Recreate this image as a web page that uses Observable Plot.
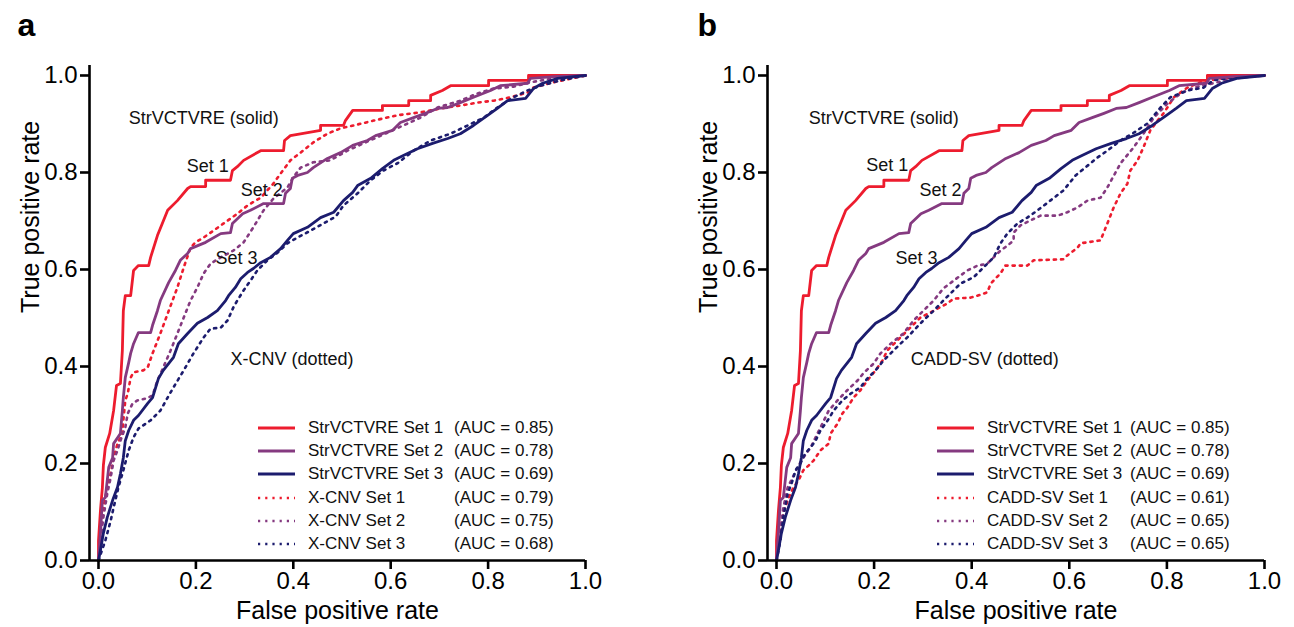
<!DOCTYPE html>
<html><head><meta charset="utf-8">
<script src="https://cdn.jsdelivr.net/npm/d3@7"></script>
<script src="https://cdn.jsdelivr.net/npm/@observablehq/plot@0.6"></script>
<style>
body{margin:0;background:#fff;font-family:"Liberation Sans",Arial,Helvetica,sans-serif;}
#wrap{position:relative;width:1294px;height:627px;overflow:hidden;background:#fff}
.panel{position:absolute;top:0}
.legend{position:absolute;top:0;left:0;font-size:17px;color:#111}
.row{position:absolute;height:24px;line-height:24px;white-space:nowrap}
.sw{position:absolute;top:10px}
</style></head><body><div id="wrap"></div><script>
// ---------- data (false positive rate, true positive rate) ----------
const strSet1 = [[0,0],[0.000,0.041],[0.004,0.103],[0.008,0.151],[0.010,0.196],[0.014,0.233],[0.023,0.262],[0.031,0.309],[0.037,0.361],[0.045,0.365],[0.049,0.433],[0.051,0.515],[0.055,0.546],[0.066,0.546],[0.072,0.598],[0.082,0.608],[0.103,0.608],[0.107,0.625],[0.121,0.670],[0.131,0.695],[0.142,0.722],[0.162,0.742],[0.183,0.767],[0.189,0.771],[0.220,0.771],[0.220,0.784],[0.271,0.784],[0.275,0.804],[0.285,0.812],[0.298,0.825],[0.333,0.845],[0.380,0.845],[0.382,0.866],[0.394,0.876],[0.456,0.887],[0.456,0.897],[0.503,0.897],[0.507,0.907],[0.522,0.928],[0.583,0.928],[0.583,0.938],[0.637,0.938],[0.637,0.948],[0.682,0.948],[0.682,0.959],[0.706,0.969],[0.723,0.979],[0.801,0.979],[0.801,0.990],[0.883,0.990],[0.883,1.0],[1,1]];
const strSet2 = [[0,0],[0.004,0.056],[0.008,0.124],[0.014,0.130],[0.021,0.192],[0.029,0.212],[0.031,0.241],[0.045,0.262],[0.049,0.309],[0.051,0.336],[0.055,0.377],[0.062,0.408],[0.066,0.427],[0.072,0.447],[0.082,0.470],[0.107,0.470],[0.111,0.485],[0.121,0.515],[0.127,0.536],[0.144,0.573],[0.158,0.598],[0.168,0.619],[0.183,0.633],[0.189,0.643],[0.220,0.656],[0.251,0.674],[0.271,0.676],[0.275,0.695],[0.296,0.715],[0.312,0.722],[0.339,0.736],[0.380,0.736],[0.384,0.757],[0.394,0.767],[0.398,0.788],[0.409,0.794],[0.429,0.800],[0.441,0.810],[0.470,0.829],[0.497,0.841],[0.522,0.856],[0.552,0.866],[0.569,0.876],[0.604,0.887],[0.620,0.903],[0.647,0.913],[0.671,0.922],[0.696,0.932],[0.717,0.934],[0.743,0.944],[0.770,0.955],[0.805,0.969],[0.825,0.979],[0.881,0.984],[0.887,0.994],[0.943,0.998],[1,1]];
const strSet3 = [[0,0],[0.004,0.021],[0.010,0.056],[0.018,0.089],[0.029,0.124],[0.039,0.151],[0.045,0.179],[0.051,0.212],[0.055,0.247],[0.062,0.268],[0.072,0.289],[0.082,0.299],[0.101,0.324],[0.111,0.336],[0.123,0.375],[0.133,0.392],[0.154,0.419],[0.164,0.447],[0.183,0.468],[0.203,0.489],[0.224,0.501],[0.244,0.515],[0.261,0.536],[0.267,0.546],[0.281,0.563],[0.292,0.581],[0.306,0.594],[0.318,0.602],[0.333,0.614],[0.353,0.625],[0.374,0.643],[0.388,0.660],[0.400,0.674],[0.429,0.687],[0.456,0.707],[0.483,0.718],[0.503,0.742],[0.522,0.759],[0.532,0.773],[0.559,0.788],[0.583,0.808],[0.606,0.825],[0.626,0.835],[0.655,0.849],[0.686,0.860],[0.717,0.870],[0.743,0.880],[0.770,0.897],[0.799,0.918],[0.819,0.932],[0.840,0.948],[0.877,0.953],[0.893,0.973],[0.912,0.984],[0.943,0.994],[1,1]];
const xcnvSet1 = [[0,0],[0.004,0.056],[0.010,0.109],[0.018,0.151],[0.025,0.179],[0.031,0.212],[0.039,0.241],[0.049,0.262],[0.051,0.289],[0.055,0.330],[0.060,0.344],[0.066,0.377],[0.072,0.388],[0.092,0.392],[0.101,0.398],[0.111,0.427],[0.127,0.468],[0.142,0.509],[0.152,0.536],[0.162,0.563],[0.175,0.604],[0.189,0.645],[0.199,0.656],[0.216,0.666],[0.236,0.680],[0.257,0.695],[0.285,0.715],[0.306,0.732],[0.333,0.748],[0.359,0.777],[0.374,0.798],[0.394,0.825],[0.415,0.841],[0.441,0.862],[0.470,0.880],[0.497,0.891],[0.524,0.897],[0.565,0.907],[0.614,0.918],[0.661,0.924],[0.702,0.932],[0.743,0.938],[0.778,0.944],[0.811,0.948],[0.846,0.955],[0.881,0.965],[0.893,0.975],[0.934,0.986],[1,1]];
const xcnvSet2 = [[0,0],[0.004,0.041],[0.010,0.089],[0.018,0.138],[0.025,0.171],[0.031,0.206],[0.039,0.227],[0.045,0.247],[0.055,0.274],[0.060,0.303],[0.070,0.324],[0.080,0.330],[0.097,0.334],[0.111,0.340],[0.121,0.371],[0.133,0.398],[0.148,0.433],[0.162,0.468],[0.175,0.501],[0.189,0.536],[0.203,0.563],[0.216,0.592],[0.230,0.612],[0.251,0.625],[0.277,0.639],[0.298,0.656],[0.318,0.687],[0.339,0.722],[0.359,0.746],[0.388,0.769],[0.400,0.790],[0.415,0.810],[0.441,0.821],[0.476,0.825],[0.511,0.845],[0.544,0.860],[0.593,0.882],[0.626,0.897],[0.661,0.913],[0.696,0.934],[0.743,0.948],[0.778,0.963],[0.811,0.973],[0.852,0.977],[0.887,0.986],[0.934,0.994],[1,1]];
const xcnvSet3 = [[0,0],[0.014,0.041],[0.025,0.082],[0.031,0.109],[0.041,0.151],[0.051,0.186],[0.062,0.227],[0.072,0.254],[0.082,0.272],[0.107,0.289],[0.127,0.309],[0.142,0.336],[0.154,0.357],[0.175,0.392],[0.195,0.427],[0.216,0.460],[0.230,0.478],[0.251,0.480],[0.265,0.495],[0.277,0.522],[0.285,0.536],[0.298,0.557],[0.312,0.577],[0.326,0.598],[0.347,0.619],[0.368,0.635],[0.388,0.654],[0.409,0.666],[0.435,0.680],[0.462,0.695],[0.487,0.709],[0.503,0.732],[0.532,0.757],[0.559,0.784],[0.585,0.804],[0.614,0.819],[0.647,0.845],[0.682,0.866],[0.723,0.880],[0.758,0.897],[0.791,0.913],[0.819,0.934],[0.852,0.955],[0.881,0.969],[0.908,0.979],[0.949,0.990],[1,1]];
const caddSet1 = [[0,0],[0.008,0.056],[0.014,0.097],[0.025,0.130],[0.035,0.151],[0.045,0.165],[0.055,0.186],[0.066,0.196],[0.076,0.206],[0.090,0.227],[0.107,0.241],[0.111,0.262],[0.125,0.282],[0.135,0.303],[0.145,0.315],[0.158,0.336],[0.172,0.351],[0.186,0.371],[0.203,0.392],[0.217,0.412],[0.227,0.433],[0.254,0.460],[0.295,0.501],[0.322,0.515],[0.350,0.530],[0.363,0.540],[0.398,0.542],[0.418,0.548],[0.432,0.553],[0.439,0.571],[0.459,0.592],[0.469,0.608],[0.514,0.608],[0.527,0.619],[0.588,0.621],[0.596,0.629],[0.617,0.645],[0.623,0.654],[0.664,0.660],[0.678,0.695],[0.691,0.728],[0.705,0.757],[0.719,0.777],[0.725,0.804],[0.740,0.825],[0.752,0.852],[0.766,0.887],[0.781,0.907],[0.793,0.922],[0.801,0.934],[0.814,0.955],[0.842,0.975],[0.869,0.986],[0.910,0.994],[0.957,0.998],[1,1]];
const caddSet2 = [[0,0],[0.008,0.062],[0.014,0.109],[0.023,0.151],[0.033,0.171],[0.043,0.192],[0.055,0.212],[0.070,0.233],[0.084,0.262],[0.094,0.282],[0.107,0.309],[0.125,0.330],[0.145,0.351],[0.166,0.371],[0.178,0.386],[0.199,0.406],[0.213,0.427],[0.234,0.447],[0.260,0.468],[0.281,0.495],[0.301,0.515],[0.322,0.536],[0.342,0.561],[0.363,0.577],[0.391,0.598],[0.412,0.608],[0.432,0.612],[0.445,0.625],[0.459,0.639],[0.473,0.649],[0.486,0.660],[0.486,0.676],[0.500,0.691],[0.520,0.701],[0.541,0.711],[0.576,0.711],[0.596,0.718],[0.617,0.728],[0.637,0.742],[0.664,0.748],[0.678,0.769],[0.705,0.819],[0.732,0.852],[0.752,0.880],[0.773,0.913],[0.801,0.942],[0.828,0.963],[0.855,0.975],[0.895,0.984],[0.936,0.994],[1,1]];
const caddSet3 = [[0,0],[0.008,0.041],[0.014,0.089],[0.023,0.138],[0.033,0.165],[0.039,0.186],[0.049,0.200],[0.059,0.221],[0.070,0.233],[0.080,0.247],[0.090,0.268],[0.105,0.289],[0.117,0.309],[0.135,0.330],[0.152,0.344],[0.172,0.357],[0.186,0.375],[0.203,0.392],[0.219,0.412],[0.234,0.427],[0.254,0.447],[0.268,0.460],[0.281,0.474],[0.301,0.495],[0.322,0.515],[0.342,0.536],[0.357,0.551],[0.377,0.571],[0.404,0.584],[0.424,0.604],[0.445,0.625],[0.459,0.654],[0.473,0.674],[0.494,0.695],[0.514,0.707],[0.535,0.722],[0.561,0.742],[0.588,0.763],[0.613,0.794],[0.658,0.831],[0.678,0.845],[0.705,0.866],[0.732,0.882],[0.760,0.901],[0.787,0.934],[0.807,0.955],[0.842,0.969],[0.875,0.975],[0.895,0.990],[0.936,0.996],[1,1]];

const setColors = ["#ed1c2e", "#853a80", "#1c1c6e"];
const legendNamesA = ["StrVCTVRE Set 1","StrVCTVRE Set 2","StrVCTVRE Set 3","X-CNV Set 1","X-CNV Set 2","X-CNV Set 3"];
const legendNamesB = ["StrVCTVRE Set 1","StrVCTVRE Set 2","StrVCTVRE Set 3","CADD-SV Set 1","CADD-SV Set 2","CADD-SV Set 3"];
const aucA = ["0.85","0.78","0.69","0.79","0.75","0.68"];
const aucB = ["0.85","0.78","0.69","0.61","0.65","0.65"];
const tickValues = [0, 0.2, 0.4, 0.6, 0.8, 1.0];
const notesA = [
  {x: 0.062, y: 0.911, t: "StrVCTVRE (solid)"},
  {x: 0.181, y: 0.812, t: "Set 1"},
  {x: 0.292, y: 0.763, t: "Set 2"},
  {x: 0.240, y: 0.623, t: "Set 3"},
  {x: 0.271, y: 0.416, t: "X-CNV (dotted)"}
];
const notesB = [
  {x: 0.066, y: 0.911, t: "StrVCTVRE (solid)"},
  {x: 0.184, y: 0.814, t: "Set 1"},
  {x: 0.293, y: 0.763, t: "Set 2"},
  {x: 0.244, y: 0.623, t: "Set 3"},
  {x: 0.275, y: 0.416, t: "CADD-SV (dotted)"}
];

const FONT = '"Liberation Sans", Arial, Helvetica, sans-serif';
const DASH = "2.2,5";

function makePanel({letter, marginLeft, marginRight, solid, dotted, notes, letterX, yLabelX}) {
  const W = 647, H = 627, mTop = 65, mBottom = 67;
  const span = W - marginLeft - marginRight;   // pixels from axis line to x = 1
  const xMin = -9 / (span - 9);
  const yTop = 1.0206;
  const marks = [];
  dotted.forEach((s, i) => marks.push(Plot.line(s, {x: d => d[0], y: d => d[1], stroke: setColors[i], strokeWidth: 2.6, strokeDasharray: DASH})));
  solid.forEach((s, i) => marks.push(Plot.line(s, {x: d => d[0], y: d => d[1], stroke: setColors[i], strokeWidth: 2.8})));
  marks.push(Plot.ruleX([xMin], {y1: 0, y2: yTop, stroke: "#000", strokeWidth: 2.6}));
  marks.push(Plot.ruleY([0], {x1: xMin, x2: 1, stroke: "#000", strokeWidth: 2.6}));
  marks.push(Plot.axisX({ticks: tickValues, tickFormat: d3.format(".1f"), tickSize: 9, tickPadding: 2, strokeWidth: 2.6, stroke: "#000", fill: "#000", fontSize: 24, label: null}));
  marks.push(Plot.axisY({ticks: tickValues, tickFormat: d3.format(".1f"), tickSize: 9, tickPadding: 3, strokeWidth: 2.6, stroke: "#000", fill: "#000", fontSize: 24, label: null}));
  marks.push(Plot.text(["False positive rate"], {frameAnchor: "bottom", dy: 58, lineAnchor: "bottom", fontSize: 25, fill: "#000"}));
  marks.push(Plot.text(["True positive rate"], {frameAnchor: "left", dx: yLabelX - marginLeft, rotate: -90, fontSize: 25, fill: "#000"}));
  marks.push(Plot.text([letter], {frameAnchor: "top-left", dx: letterX - marginLeft, dy: -30, textAnchor: "start", lineAnchor: "bottom", fontSize: 32, fontWeight: "bold", fill: "#000"}));
  marks.push(Plot.text(notes, {x: "x", y: "y", text: "t", textAnchor: "start", fontSize: 18, fill: "#111"}));
  return Plot.plot({
    width: W, height: H,
    marginLeft, marginRight, marginTop: mTop, marginBottom: mBottom,
    x: {domain: [xMin, 1], axis: null},
    y: {domain: [0, yTop], axis: null},
    style: {fontFamily: FONT, fontSize: "24px", color: "#000", background: "transparent", overflow: "visible"},
    marks
  });
}

function makeLegend(names, aucs, sw0, sw1, textX, aucX) {
  const div = document.createElement("div");
  div.className = "legend";
  names.forEach((n, i) => {
    const r = document.createElement("div");
    r.className = "row";
    r.style.top = (416 + i * 23.2) + "px";
    r.style.left = "0px";
    r.style.width = "1294px";
    const dotted = i >= 3;
    const c = setColors[i % 3];
    r.innerHTML =
      `<svg class="sw" style="left:${sw0}px" width="${sw1 - sw0}" height="4"><line x1="0" x2="${sw1 - sw0}" y1="2" y2="2" stroke="${c}" stroke-width="${dotted ? 2.6 : 2.8}" ${dotted ? `stroke-dasharray="${DASH}"` : ""}/></svg>` +
      `<span style="position:absolute;left:${textX}px">${n}</span>` +
      `<span style="position:absolute;left:${aucX}px">(AUC = ${aucs[i]})</span>`;
    div.appendChild(r);
  });
  return div;
}

const wrap = document.getElementById("wrap");
const pa = makePanel({letter: "a", marginLeft: 89, marginRight: 62, solid: [strSet1, strSet2, strSet3], dotted: [xcnvSet1, xcnvSet2, xcnvSet3], notes: notesA, letterX: 17, yLabelX: 30});
pa.classList.add("panel"); pa.style.left = "0px";
const pb = makePanel({letter: "b", marginLeft: 120, marginRight: 30, solid: [strSet1, strSet2, strSet3], dotted: [caddSet1, caddSet2, caddSet3], notes: notesB, letterX: 50, yLabelX: 61});
pb.classList.add("panel"); pb.style.left = "647px";
wrap.appendChild(pa);
wrap.appendChild(pb);
wrap.appendChild(makeLegend(legendNamesA, aucA, 258, 295, 308, 454));
wrap.appendChild(makeLegend(legendNamesB, aucB, 937, 974, 987, 1130));
</script></body></html>
